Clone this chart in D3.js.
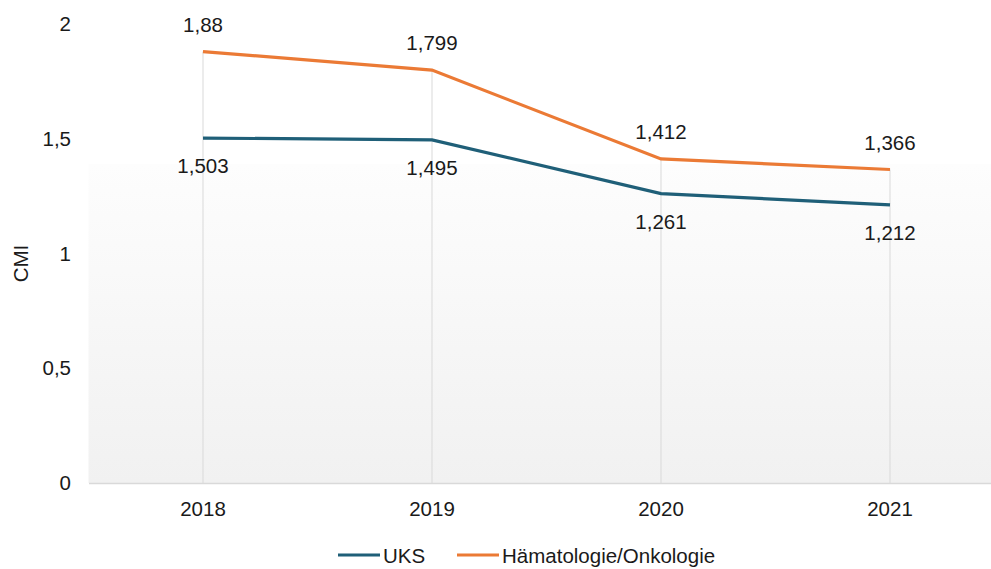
<!DOCTYPE html>
<html>
<head>
<meta charset="utf-8">
<script src="https://cdn.jsdelivr.net/npm/d3@7"></script>
<style>
  html, body { margin: 0; padding: 0; background: #fff; }
  svg { display: block; font-family: "Liberation Sans", Arial, sans-serif; }
</style>
</head>
<body>
<svg id="chart" width="991" height="569"></svg>
<script>
// Case Mix Index per year
const years = ["2018", "2019", "2020", "2021"];
const uks = [1.503, 1.495, 1.261, 1.212];
const haemOnko = [1.88, 1.799, 1.412, 1.366];
const seriesNames = ["UKS", "Hämatologie/Onkologie"];
const yTicks = [0, 0.5, 1, 1.5, 2];

const colors = { uks: "#1f5f78", haem: "#eb7a35" };
const fmt = v => String(v).replace(".", ",");
const FS = 20.5;

const svg = d3.select("#chart");
const plot = { left: 88.5, right: 1004.5, top: 24, bottom: 483 };

const x = d3.scaleBand().domain(years).range([plot.left, plot.right]).padding(0);
const cx = d => x(d) + x.bandwidth() / 2;
const y = d3.scaleLinear().domain([0, 2]).range([plot.bottom, plot.top]);

// soft background panel
const defs = svg.append("defs");
const grad = defs.append("linearGradient").attr("id", "bg").attr("x1", 0).attr("y1", 0).attr("x2", 0).attr("y2", 1);
grad.append("stop").attr("offset", "0%").attr("stop-color", "#fdfdfd");
grad.append("stop").attr("offset", "100%").attr("stop-color", "#f1f1f1");
svg.append("rect")
  .attr("x", plot.left).attr("y", y(1.39))
  .attr("width", plot.right - plot.left).attr("height", plot.bottom - y(1.39))
  .attr("fill", "url(#bg)");

// drop lines from the higher point down to the axis
svg.append("g").selectAll("line").data(years).join("line")
  .attr("x1", d => cx(d)).attr("x2", d => cx(d))
  .attr("y1", (d, i) => y(Math.max(uks[i], haemOnko[i])))
  .attr("y2", plot.bottom)
  .attr("stroke", "#d9d9d9").attr("stroke-width", 1);

// category axis
const xAxis = svg.append("g").attr("transform", `translate(0,${plot.bottom})`)
  .call(d3.axisBottom(x).tickSize(0).tickPadding(18));
xAxis.select(".domain").attr("stroke", "#d9d9d9").attr("stroke-width", 1.5);
xAxis.selectAll("text").attr("font-size", FS).attr("fill", "#1a1a1a")
  .attr("font-family", "Liberation Sans, Arial, sans-serif");

// value axis (labels only)
const yAxis = svg.append("g").attr("transform", `translate(71,0)`)
  .call(d3.axisLeft(y).tickValues(yTicks).tickFormat(fmt).tickSize(0).tickPadding(0));
yAxis.select(".domain").remove();
yAxis.selectAll("text").attr("font-size", FS).attr("fill", "#1a1a1a")
  .attr("font-family", "Liberation Sans, Arial, sans-serif");

svg.append("text")
  .attr("transform", `translate(28,${(plot.top + plot.bottom) / 2 + 10}) rotate(-90)`)
  .attr("text-anchor", "middle").attr("font-size", FS).attr("fill", "#1a1a1a")
  .text("CMI");

const line = d3.line().x((d, i) => cx(years[i])).y(d => y(d));

svg.append("path").datum(uks).attr("d", line)
  .attr("fill", "none").attr("stroke", colors.uks).attr("stroke-width", 3.2);
svg.append("path").datum(haemOnko).attr("d", line)
  .attr("fill", "none").attr("stroke", colors.haem).attr("stroke-width", 3.2);

// value labels: orange above, blue below
svg.append("g").selectAll("text").data(haemOnko).join("text")
  .attr("x", (d, i) => cx(years[i]))
  .attr("y", d => y(d) - 20)
  .attr("text-anchor", "middle").attr("font-size", FS).attr("fill", "#1a1a1a")
  .text(fmt);
svg.append("g").selectAll("text").data(uks).join("text")
  .attr("x", (d, i) => cx(years[i]))
  .attr("y", d => y(d) + 35)
  .attr("text-anchor", "middle").attr("font-size", FS).attr("fill", "#1a1a1a")
  .text(fmt);

// legend
const legend = svg.append("g").attr("transform", "translate(338,555)");
const items = [
  { name: seriesNames[0], color: colors.uks, x: 0 },
  { name: seriesNames[1], color: colors.haem, x: 119 }
];
items.forEach(it => {
  legend.append("line").attr("x1", it.x).attr("x2", it.x + 42)
    .attr("y1", 0).attr("y2", 0).attr("stroke", it.color).attr("stroke-width", 3.2);
  legend.append("text").attr("x", it.x + 45).attr("y", 7.5)
    .attr("font-size", FS).attr("fill", "#1a1a1a").text(it.name);
});
</script>
</body>
</html>
